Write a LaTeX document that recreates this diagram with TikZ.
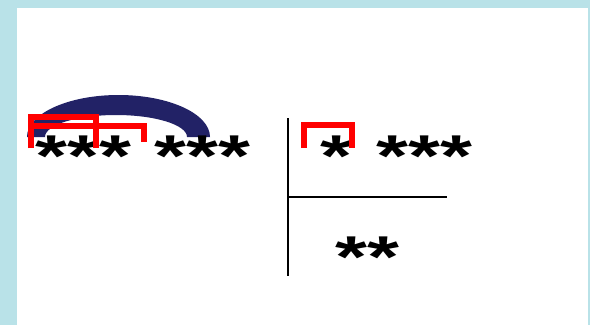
\documentclass[tikz,border=0pt]{standalone}
\usepackage{fontspec}
\usepackage{graphicx}
\setmainfont{Liberation Sans}
\newcommand{\squash}[1]{\scalebox{1}[0.72]{#1}}
\definecolor{framecyan}{RGB}{185,226,232}
\definecolor{arcblue}{RGB}{34,34,102}
\begin{document}
\begin{tikzpicture}[x=1pt,y=-1pt,
  star/.style={font=\fontsize{82}{82}\selectfont\bfseries, inner sep=0pt, anchor=base west, text=black},
  bracket/.style={draw=red, line width=6pt, line cap=butt, line join=miter},
  rule/.style={draw=black, line width=2pt}]
\useasboundingbox (0,0) rectangle (590,325);
\fill[framecyan] (0,0) rectangle (590,325);
\fill[white] (17,8) rectangle (588,325);
% blue crescent
\fill[arcblue] (27,137) arc[start angle=180, end angle=360, x radius=91.5, y radius=42]
  -- (187,137) arc[start angle=0, end angle=-180, x radius=71, y radius=22] -- cycle;
% stars
\node[star] (g1) at (35.5,176.4) {\squash{***}};
\node[star] (g2) at (154.5,176.4) {\squash{***}};
\node[star] (q1) at (320.5,176.4) {\squash{*}};
\node[star] (q2) at (376.5,176.4) {\squash{***}};
\node[star] (r1) at (335.5,277.4) {\squash{**}};
% red brackets
\draw[bracket] (31,148) -- (31,116.5) -- (96,116.5) -- (96,148);
\draw[bracket] (31,148) -- (31,126) -- (143.5,126) -- (143.5,142);
\draw[bracket] (304,148) -- (304,125) -- (351.5,125) -- (351.5,148);
% division lines
\coordinate (vt) at (288,118);
\coordinate (vb) at (288,276);
\coordinate (hl) at (288,197);
\coordinate (hr) at (447,197);
\draw[rule] (vt) -- (vb);
\draw[rule] (hl) -- (hr);
\end{tikzpicture}
\end{document}
